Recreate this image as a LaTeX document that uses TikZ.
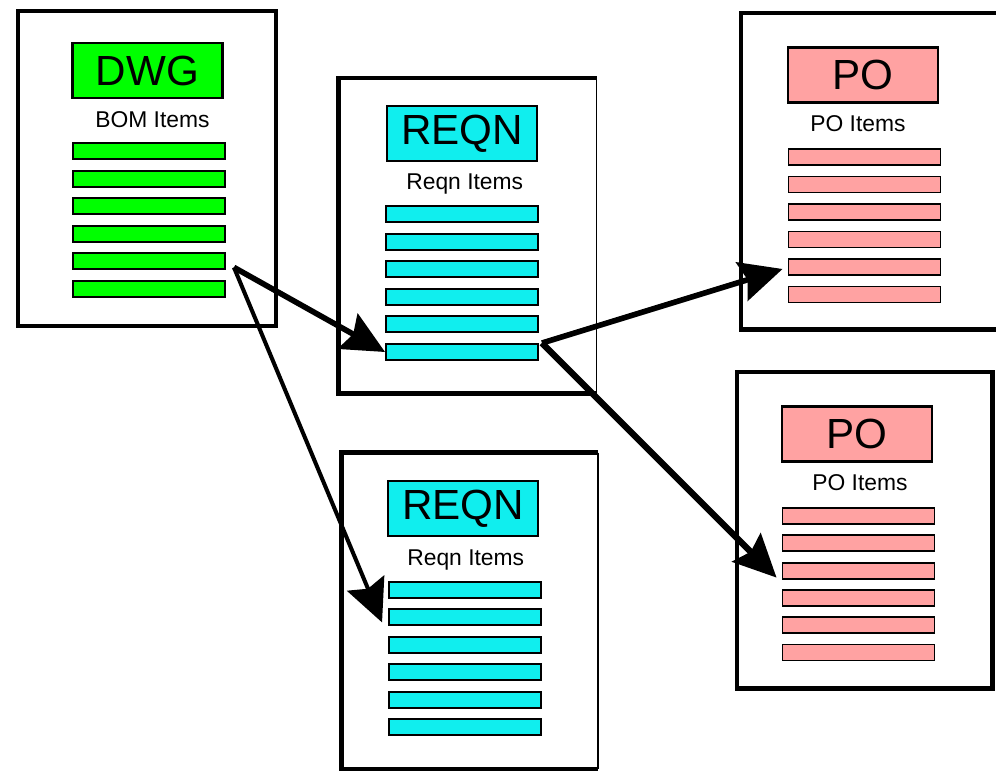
\documentclass[tikz,border=0pt]{standalone}
\usepackage{fontspec}
\setmainfont{Liberation Sans}
\usetikzlibrary{arrows.meta}

\definecolor{dwggreen}{RGB}{0,255,0}
\definecolor{reqncyan}{RGB}{16,238,238}
\definecolor{popink}{RGB}{255,162,162}

\tikzset{
  docframe/.style={line width=2.8pt},
  thinframe/.style={line width=0.6pt},
  doctitle/.style={draw, line width=1.2pt, minimum width=3cm, minimum height=1.1cm, inner sep=0pt, font=\fontsize{24}{24}\selectfont},
  itemlabel/.style={inner sep=0pt, anchor=base west, font=\fontsize{13}{13}\selectfont},
  itembar/.style={draw, line width=1.1pt, minimum width=3.04cm, minimum height=0.32cm, inner sep=0pt},
  linkarrow/.style={line width=3.2pt, -{Stealth[length=0.85cm,width=0.8cm,inset=0.12cm]}}
}

\begin{document}
\begin{tikzpicture}[x=0.02cm, y=-0.02cm]
\useasboundingbox (0,0) rectangle (996,770);

% document frames
\draw[docframe] (18,11) rectangle (276,326);
\draw[docframe] (596.5,78) -- (338.5,78) -- (338.5,393.5) -- (596.5,393.5);
\draw[thinframe] (596.5,78) -- (596.5,393.5);
\draw[docframe] (598,452.5) -- (341.5,452.5) -- (341.5,769) -- (598,769);
\draw[thinframe] (598,452.5) -- (598,769);
\draw[docframe] (996,13) -- (741,13) -- (741,329.5) -- (996,329.5);
\draw[docframe] (737,372) rectangle (992.5,688.5);

% DWG
\node[doctitle, fill=dwggreen] (dwg) at (147.5,70.5) {DWG};
\node[itemlabel] (dwglbl) at (95,128) {BOM Items};
\foreach \i in {1,...,6}
  \node[itembar, fill=dwggreen] (dwg\i) at (149,{151+27.6*(\i-1)}) {};

% REQN (upper)
\node[doctitle, fill=reqncyan] (reqa) at (462,133.5) {REQN};
\node[itemlabel] (reqalbl) at (406,190) {Reqn Items};
\foreach \i in {1,...,6}
  \node[itembar, fill=reqncyan] (reqa\i) at (462,{214+27.6*(\i-1)}) {};

% REQN (lower)
\node[doctitle, fill=reqncyan] (reqb) at (463,508.5) {REQN};
\node[itemlabel] (reqblbl) at (407,565) {Reqn Items};
\foreach \i in {1,...,6}
  \node[itembar, fill=reqncyan] (reqb\i) at (465,{590+27.4*(\i-1)}) {};

% PO (upper)
\node[doctitle, fill=popink] (poa) at (863,75) {PO};
\node[itemlabel] (poalbl) at (810,132) {PO Items};
\foreach \i in {1,...,6}
  \node[itembar, fill=popink] (poa\i) at (864.5,{157+27.5*(\i-1)}) {};

% PO (lower)
\node[doctitle, fill=popink] (pob) at (857,434) {PO};
\node[itemlabel] (poblbl) at (812,490) {PO Items};
\foreach \i in {1,...,6}
  \node[itembar, fill=popink] (pob\i) at (858.5,{516+27.3*(\i-1)}) {};

% links
\coordinate (dwgout) at ([shift={(8,6)}]dwg5.east);
\coordinate (reqout) at ([shift={(3,0)}]reqa6.north east);
\draw[linkarrow] (dwgout) -- (reqa6.west);
\draw[linkarrow, line width=2.3pt] (dwgout) -- ([shift={(-6,5)}]reqb2.west);
\draw[linkarrow] (reqout) -- ([shift={(-5,2)}]poa5.west);
\draw[linkarrow, line width=3.6pt] (reqout) -- ([shift={(-5,7)}]pob3.west);
\end{tikzpicture}
\end{document}
